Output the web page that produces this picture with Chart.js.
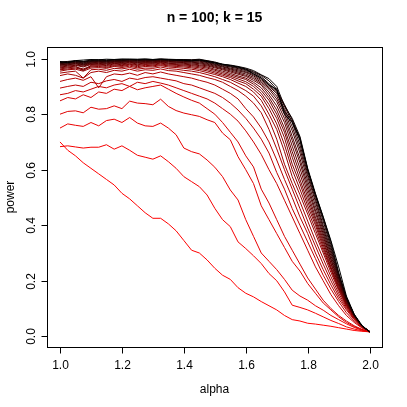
<!DOCTYPE html>
<html>
<head>
<meta charset="utf-8">
<script src="https://cdn.jsdelivr.net/npm/chart.js@4"></script>
<style>
    html, body { margin: 0; padding: 0; background: #ffffff; }
    canvas { display: block; }
</style>
</head>
<body>
<canvas id="graficoPotencia" width="407" height="407"></canvas>
<script>
// ------------ Dados ------------ //

var alpha = [1.000, 1.025, 1.050, 1.075, 1.100, 1.125, 1.150, 1.175, 1.200, 1.225,
             1.250, 1.275, 1.300, 1.325, 1.350, 1.375, 1.400, 1.425, 1.450, 1.475,
             1.500, 1.525, 1.550, 1.575, 1.600, 1.625, 1.650, 1.675, 1.700, 1.725,
             1.750, 1.775, 1.800, 1.825, 1.850, 1.875, 1.900, 1.925, 1.950, 1.975, 2.000];

var xTicks = [1.0, 1.2, 1.4, 1.6, 1.8, 2.0];
var xTickLabels = ["1.0", "1.2", "1.4", "1.6", "1.8", "2.0"];
var yTicks = [0.0, 0.2, 0.4, 0.6, 0.8, 1.0];
var yTickLabels = ["0.0", "0.2", "0.4", "0.6", "0.8", "1.0"];

var titulo = "n = 100; k = 15";
var rotuloX = "alpha";
var rotuloY = "power";

// uma curva de poder por linha, do vermelho (primeira) ao preto (última)
var p01 = [0.70,0.67,0.65,0.625,0.605,0.585,0.565,0.545,0.515,0.495,0.47,0.445,0.425,0.425,0.405,0.38,0.345,0.31,0.30,0.275,0.245,
           0.22,0.205,0.175,0.155,0.142,0.125,0.11,0.095,0.075,0.06,0.055,0.047,0.044,0.04,0.036,0.031,0.026,0.021,0.018,0.016];
var p02 = [0.683,0.686,0.682,0.678,0.681,0.681,0.69,0.674,0.686,0.67,0.652,0.645,0.638,0.65,0.629,0.605,0.575,0.557,0.539,0.509,0.461,
           0.42,0.395,0.34,0.316,0.29,0.262,0.226,0.2,0.16,0.112,0.104,0.095,0.083,0.07,0.057,0.046,0.034,0.026,0.02,0.016];
var p03 = [0.75,0.765,0.76,0.756,0.77,0.758,0.777,0.782,0.77,0.788,0.768,0.758,0.756,0.768,0.75,0.726,0.678,0.665,0.657,0.635,0.609,
           0.575,0.527,0.491,0.42,0.36,0.30,0.27,0.24,0.205,0.166,0.145,0.13,0.11,0.094,0.075,0.06,0.045,0.032,0.022,0.016];
var p04 = [0.80,0.81,0.812,0.805,0.825,0.818,0.82,0.83,0.82,0.847,0.84,0.838,0.834,0.854,0.828,0.813,0.804,0.798,0.792,0.78,0.77,
           0.732,0.708,0.647,0.60,0.55,0.47,0.42,0.37,0.32,0.27,0.235,0.19,0.155,0.12,0.095,0.07,0.05,0.035,0.024,0.016];
var p05 = [0.848,0.86,0.855,0.87,0.86,0.88,0.875,0.89,0.885,0.9,0.888,0.895,0.90,0.905,0.89,0.875,0.862,0.85,0.84,0.82,0.80,
           0.77,0.735,0.70,0.65,0.61,0.53,0.48,0.42,0.36,0.31,0.26,0.21,0.17,0.13,0.10,0.075,0.055,0.038,0.025,0.016];
var p06 = [0.87,0.875,0.885,0.88,0.89,0.9,0.895,0.905,0.91,0.9,0.915,0.91,0.918,0.912,0.905,0.895,0.885,0.875,0.865,0.855,0.84,
           0.82,0.80,0.775,0.74,0.70,0.655,0.60,0.55,0.49,0.43,0.37,0.31,0.25,0.20,0.15,0.11,0.075,0.05,0.03,0.017];
var p07 = [0.894,0.90,0.905,0.90,0.915,0.91,0.92,0.925,0.918,0.93,0.925,0.932,0.935,0.93,0.925,0.92,0.91,0.905,0.895,0.885,0.875,
           0.86,0.84,0.815,0.785,0.75,0.71,0.66,0.59,0.53,0.46,0.40,0.34,0.28,0.22,0.17,0.125,0.085,0.055,0.032,0.017];
var p08 = [0.918,0.925,0.93,0.922,0.935,0.895,0.935,0.945,0.942,0.948,0.94,0.95,0.945,0.952,0.945,0.94,0.935,0.93,0.922,0.915,0.905,
           0.89,0.875,0.855,0.82,0.79,0.75,0.70,0.635,0.565,0.50,0.43,0.37,0.30,0.24,0.185,0.135,0.095,0.06,0.033,0.017];
var p09 = [0.939,0.945,0.94,0.93,0.95,0.955,0.95,0.958,0.955,0.962,0.955,0.96,0.958,0.963,0.957,0.955,0.95,0.945,0.94,0.932,0.925,
           0.915,0.90,0.885,0.865,0.84,0.805,0.745,0.675,0.60,0.53,0.46,0.39,0.325,0.26,0.20,0.145,0.10,0.063,0.035,0.018];
var p10 = [0.948,0.952,0.955,0.93,0.96,0.962,0.958,0.965,0.963,0.968,0.962,0.966,0.965,0.97,0.964,0.962,0.958,0.955,0.95,0.943,0.935,
           0.925,0.915,0.90,0.885,0.865,0.83,0.78,0.71,0.62,0.55,0.485,0.415,0.345,0.28,0.215,0.155,0.105,0.065,0.036,0.018];
var p11 = [0.955,0.96,0.962,0.955,0.966,0.968,0.965,0.972,0.968,0.973,0.967,0.972,0.97,0.975,0.97,0.968,0.965,0.962,0.957,0.95,0.943,
           0.935,0.925,0.912,0.90,0.88,0.85,0.80,0.745,0.665,0.575,0.51,0.44,0.37,0.30,0.23,0.165,0.11,0.068,0.036,0.018];
var p12 = [0.96,0.963,0.966,0.96,0.97,0.972,0.968,0.975,0.972,0.977,0.971,0.976,0.974,0.978,0.974,0.972,0.97,0.967,0.962,0.956,0.948,
           0.94,0.932,0.92,0.91,0.89,0.865,0.82,0.765,0.69,0.60,0.53,0.455,0.385,0.31,0.24,0.17,0.112,0.07,0.037,0.018];
var p13 = [0.963,0.967,0.97,0.963,0.973,0.975,0.972,0.978,0.975,0.98,0.975,0.979,0.977,0.981,0.977,0.976,0.974,0.971,0.967,0.961,0.953,
           0.945,0.937,0.927,0.917,0.90,0.875,0.835,0.785,0.715,0.62,0.55,0.47,0.40,0.32,0.245,0.175,0.115,0.07,0.037,0.018];
var p14 = [0.967,0.97,0.973,0.957,0.976,0.978,0.975,0.981,0.978,0.982,0.978,0.982,0.98,0.984,0.98,0.979,0.977,0.975,0.971,0.966,0.958,
           0.95,0.942,0.933,0.925,0.908,0.885,0.85,0.80,0.735,0.645,0.565,0.485,0.41,0.33,0.25,0.18,0.118,0.072,0.037,0.017];
var p15 = [0.97,0.973,0.976,0.97,0.979,0.98,0.978,0.983,0.981,0.985,0.981,0.984,0.983,0.986,0.983,0.982,0.98,0.978,0.975,0.97,0.962,
           0.955,0.947,0.938,0.93,0.915,0.895,0.86,0.815,0.75,0.665,0.585,0.50,0.42,0.34,0.26,0.185,0.12,0.072,0.037,0.017];
var p16 = [0.973,0.976,0.978,0.973,0.981,0.983,0.981,0.985,0.983,0.987,0.984,0.986,0.985,0.988,0.985,0.985,0.983,0.981,0.978,0.974,0.967,
           0.96,0.952,0.944,0.936,0.922,0.905,0.87,0.83,0.77,0.685,0.605,0.515,0.43,0.35,0.265,0.19,0.123,0.073,0.037,0.017];
var p17 = [0.976,0.978,0.981,0.976,0.983,0.985,0.983,0.987,0.986,0.989,0.986,0.988,0.987,0.99,0.988,0.987,0.986,0.984,0.982,0.977,0.97,
           0.963,0.956,0.948,0.94,0.928,0.91,0.88,0.845,0.785,0.705,0.625,0.53,0.445,0.36,0.275,0.195,0.125,0.074,0.037,0.017];
var p18 = [0.978,0.98,0.983,0.978,0.985,0.987,0.985,0.989,0.988,0.99,0.988,0.99,0.989,0.991,0.99,0.989,0.988,0.987,0.985,0.98,0.973,
           0.966,0.96,0.952,0.945,0.933,0.915,0.89,0.855,0.80,0.72,0.64,0.545,0.455,0.37,0.28,0.20,0.128,0.075,0.037,0.017];
var p19 = [0.98,0.982,0.985,0.98,0.987,0.989,0.987,0.99,0.99,0.992,0.99,0.992,0.991,0.993,0.992,0.991,0.99,0.989,0.988,0.983,0.976,
           0.97,0.963,0.956,0.95,0.938,0.92,0.895,0.865,0.81,0.74,0.66,0.56,0.47,0.38,0.29,0.205,0.13,0.076,0.037,0.016];
var p20 = [0.982,0.984,0.987,0.982,0.989,0.99,0.989,0.992,0.991,0.993,0.992,0.993,0.993,0.994,0.993,0.993,0.992,0.991,0.991,0.986,0.979,
           0.972,0.966,0.96,0.953,0.942,0.925,0.90,0.875,0.82,0.755,0.675,0.575,0.485,0.39,0.30,0.21,0.133,0.077,0.037,0.016];
var p21 = [0.984,0.986,0.988,0.985,0.99,0.992,0.99,0.993,0.993,0.995,0.993,0.995,0.994,0.996,0.995,0.994,0.993,0.993,0.993,0.988,0.981,
           0.975,0.97,0.964,0.957,0.946,0.93,0.905,0.88,0.83,0.77,0.69,0.585,0.495,0.40,0.31,0.215,0.135,0.077,0.037,0.016];
var p22 = [0.986,0.987,0.99,0.987,0.992,0.993,0.992,0.995,0.994,0.996,0.995,0.996,0.995,0.997,0.996,0.995,0.995,0.994,0.995,0.99,0.984,
           0.977,0.972,0.967,0.96,0.95,0.935,0.91,0.885,0.835,0.78,0.705,0.595,0.505,0.415,0.32,0.22,0.138,0.078,0.037,0.016];
var p23 = [0.987,0.989,0.991,0.989,0.993,0.995,0.993,0.996,0.995,0.997,0.996,0.997,0.996,0.998,0.997,0.996,0.996,0.995,0.996,0.992,0.986,
           0.979,0.975,0.97,0.963,0.953,0.94,0.92,0.89,0.81,0.775,0.715,0.60,0.51,0.425,0.33,0.225,0.14,0.078,0.037,0.016];
var p24 = [0.988,0.99,0.993,0.99,0.995,0.996,0.995,0.997,0.997,0.998,0.997,0.998,0.997,0.999,0.998,0.997,0.997,0.996,0.998,0.993,0.988,
           0.98,0.977,0.972,0.966,0.957,0.942,0.928,0.90,0.83,0.785,0.72,0.605,0.515,0.43,0.34,0.23,0.14,0.078,0.037,0.016];
var p25 = [0.99,0.985,0.993,0.995,0.997,0.996,0.998,0.997,0.999,0.998,0.998,0.999,0.997,0.998,0.996,0.995,0.994,0.992,0.995,0.99,0.985,
           0.98,0.975,0.97,0.962,0.945,0.93,0.905,0.89,0.80,0.77,0.71,0.60,0.51,0.43,0.345,0.25,0.145,0.08,0.04,0.016];

var curvas = [p01, p02, p03, p04, p05, p06, p07, p08, p09, p10, p11, p12, p13,
              p14, p15, p16, p17, p18, p19, p20, p21, p22, p23, p24, p25];

// ------------ Montagem dos datasets ------------ //

var fonte = '"Liberation Sans", Arial, Helvetica, sans-serif';
var datasets = curvas.map(function (serie, i) {
    var t = i / (curvas.length - 1);
    var r = Math.round(255 * (1 - t));
    return {
        data: alpha.map(function (a, j) { return { x: a, y: serie[j] }; }),
        borderColor: 'rgb(' + r + ',0,0)',
        borderWidth: 1,
        pointRadius: 0,
        tension: 0,
        fill: false,
        order: curvas.length - i   // preto desenhado por cima
    };
});

// ------------ Eixos no estilo do R ------------ //

var eixosR = {
    id: 'eixosR',
    afterDraw: function (chart) {
        var ctx = chart.ctx;
        var area = chart.chartArea;
        var sx = chart.scales.x;
        var sy = chart.scales.y;
        ctx.save();
        ctx.strokeStyle = '#000000';
        ctx.fillStyle = '#000000';
        ctx.lineWidth = 1;

        // caixa
        ctx.strokeRect(Math.round(area.left) + 0.5, Math.round(area.top) + 0.5,
                       Math.round(area.right - area.left), Math.round(area.bottom - area.top));

        // eixo x
        ctx.font = '12px ' + fonte;
        ctx.textAlign = 'center';
        ctx.textBaseline = 'middle';
        var baseY = Math.round(area.bottom) + 0.5;
        xTicks.forEach(function (v, i) {
            var px = Math.round(sx.getPixelForValue(v)) + 0.5;
            ctx.beginPath();
            ctx.moveTo(px, baseY);
            ctx.lineTo(px, baseY + 6);
            ctx.stroke();
            ctx.fillText(xTickLabels[i], px, baseY + 18);
        });

        // eixo y
        var baseX = Math.round(area.left) + 0.5;
        yTicks.forEach(function (v, i) {
            var py = Math.round(sy.getPixelForValue(v)) + 0.5;
            ctx.beginPath();
            ctx.moveTo(baseX, py);
            ctx.lineTo(baseX - 6, py);
            ctx.stroke();
            ctx.save();
            ctx.translate(baseX - 16, py);
            ctx.rotate(-Math.PI / 2);
            ctx.fillText(yTickLabels[i], 0, 0);
            ctx.restore();
        });

        // rótulos dos eixos
        var meioX = (area.left + area.right) / 2;
        var meioY = (area.top + area.bottom) / 2;
        ctx.fillText(rotuloX, meioX, 390);
        ctx.save();
        ctx.translate(11, meioY);
        ctx.rotate(-Math.PI / 2);
        ctx.fillText(rotuloY, 0, 0);
        ctx.restore();

        // título
        ctx.font = 'bold 14px ' + fonte;
        ctx.fillText(titulo, meioX, 18);
        ctx.restore();
    }
};

// ------------ Gráfico ------------ //

var ctxPotencia = document.getElementById('graficoPotencia').getContext('2d');
var graficoPotencia = new Chart(ctxPotencia, {
    type: 'line',
    data: { datasets: datasets },
    options: {
        responsive: false,
        animation: false,
        layout: { padding: { left: 47, top: 47, right: 25, bottom: 60 } },
        plugins: {
            legend: { display: false },
            tooltip: { enabled: false },
            title: { display: false }
        },
        scales: {
            x: { type: 'linear', min: 0.958, max: 2.04, display: false },
            y: { type: 'linear', min: -0.0386, max: 1.042, display: false }
        }
    },
    plugins: [eixosR]
});
</script>
</body>
</html>
